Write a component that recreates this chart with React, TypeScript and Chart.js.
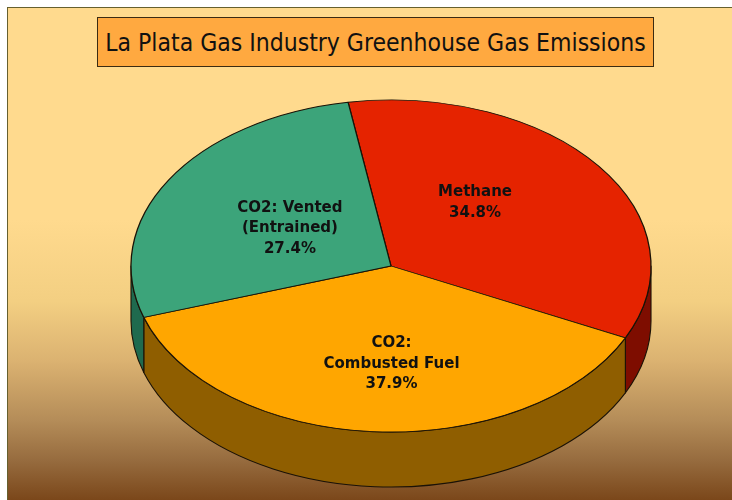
import React, { useEffect, useRef } from "react";
import { Chart, registerables } from "chart.js";

Chart.register(...registerables);

const categories = ["Methane", "CO2: Combusted Fuel", "CO2: Vented (Entrained)"];
const labelLines = [["Methane"], ["CO2:", "Combusted Fuel"], ["CO2: Vented", "(Entrained)"]];
const values = [34.8, 37.9, 27.4];
const topColors = ["#E52300", "#FFA600", "#3CA47A"];
const sideColors = ["#7E0D00", "#8F5E00", "#1F6A4E"];
const titleText = "La Plata Gas Industry Greenhouse Gas Emissions";

const TILT = 166 / 260;
const DEPTH = 55;
const labelPlace = [
  { f: 0.5, da: -12.8 },
  { f: 0.59, da: -4 },
  { f: 0.45, da: -1 },
];

const pie3d = {
  id: "pie3d",
  beforeDatasetsDraw(chart: any) {
    const ctx = chart.ctx;
    const meta = chart.getDatasetMeta(0);
    const arcs = meta.data;
    if (!arcs.length) return;
    const cx = arcs[0].x;
    const cy = arcs[0].y;
    const rx = arcs[0].outerRadius;
    const ry = rx * TILT;
    arcs.forEach((arc: any, i: number) => {
      const s = arc.startAngle;
      const e = arc.endAngle;
      for (const k of [-1, 0, 1]) {
        const off = k * Math.PI * 2;
        const a1 = Math.max(s, off);
        const a2 = Math.min(e, Math.PI + off);
        if (a1 < a2) {
          ctx.save();
          ctx.beginPath();
          ctx.ellipse(cx, cy, rx, ry, 0, a1, a2, false);
          ctx.ellipse(cx, cy + DEPTH, rx, ry, 0, a2, a1, true);
          ctx.closePath();
          ctx.fillStyle = sideColors[i];
          ctx.fill();
          ctx.lineWidth = 1.1;
          ctx.strokeStyle = "#1a1206";
          ctx.lineJoin = "round";
          ctx.stroke();
          ctx.restore();
        }
      }
    });
    ctx.save();
    ctx.translate(cx, cy);
    ctx.scale(1, TILT);
    ctx.translate(-cx, -cy);
  },
  afterDatasetsDraw(chart: any) {
    const ctx = chart.ctx;
    ctx.restore();
    const meta = chart.getDatasetMeta(0);
    const arcs = meta.data;
    if (!arcs.length) return;
    const cx = arcs[0].x;
    const cy = arcs[0].y;
    const rx = arcs[0].outerRadius;
    const ry = rx * TILT;
    ctx.save();
    ctx.font = "bold 15px 'DejaVu Sans', Verdana, sans-serif";
    ctx.fillStyle = "#111";
    ctx.textAlign = "center";
    ctx.textBaseline = "middle";
    arcs.forEach((arc: any, i: number) => {
      const p = labelPlace[i];
      const mid = (arc.startAngle + arc.endAngle) / 2 + (p.da * Math.PI) / 180;
      const x = cx + p.f * rx * Math.cos(mid);
      const y = cy + p.f * ry * Math.sin(mid);
      const lines = [...labelLines[i], values[i].toFixed(1) + "%"];
      const lh = 20.5;
      const y0 = y - ((lines.length - 1) * lh) / 2;
      lines.forEach((t, j) => ctx.fillText(t, x, y0 + j * lh));
    });
    ctx.restore();
  },
};

export default function App() {
  const ref = useRef<HTMLCanvasElement | null>(null);
  useEffect(() => {
    if (!ref.current) return;
    const chart = new Chart(ref.current, {
      type: "pie",
      data: {
        labels: categories,
        datasets: [
          {
            data: values,
            backgroundColor: topColors,
            borderColor: "#1a1206",
            borderWidth: 1.3,
            radius: 260,
            clip: false,
          } as any,
        ],
      },
      options: {
        responsive: false,
        animation: false,
        rotation: -9.5,
        layout: { padding: { left: 100, right: 50, top: 82, bottom: 50 } },
        plugins: {
          legend: { display: false },
          title: { display: false },
          tooltip: { enabled: false },
        },
        events: [],
      } as any,
      plugins: [pie3d],
    });
    return () => chart.destroy();
  }, []);

  return (
    <div
      style={{
        position: "fixed",
        left: 0,
        top: 0,
        width: 732,
        height: 500,
        overflow: "hidden",
        background: "#fff",
      }}
    >
      <div
        style={{
          position: "absolute",
          left: 7,
          top: 7,
          width: 760,
          height: 520,
          borderLeft: "1px solid #66602e",
          borderTop: "1px solid #66602e",
          background:
            "linear-gradient(to bottom, #FFDA8E 0px, #FFDA8E 212px, #F3CF82 293px, #DBB271 353px, #B48C58 413px, #966B3E 453px, #7A4619 493px, #784417 520px)",
        }}
      />
      <div
        style={{
          position: "absolute",
          left: 97,
          top: 17,
          width: 555,
          height: 48,
          background: "#FFA940",
          border: "1px solid #3b2b12",
          display: "flex",
          alignItems: "center",
          justifyContent: "center",
          fontFamily: "'Liberation Sans Narrow', 'DejaVu Sans Condensed', 'Open Sans', sans-serif",
          fontSize: 24.5,
          color: "#111",
          whiteSpace: "nowrap",
        }}
      >
        {titleText}
      </div>
      <canvas
        ref={ref}
        width={732}
        height={500}
        style={{ position: "absolute", left: 0, top: 0, width: 732, height: 500 }}
      />
    </div>
  );
}
